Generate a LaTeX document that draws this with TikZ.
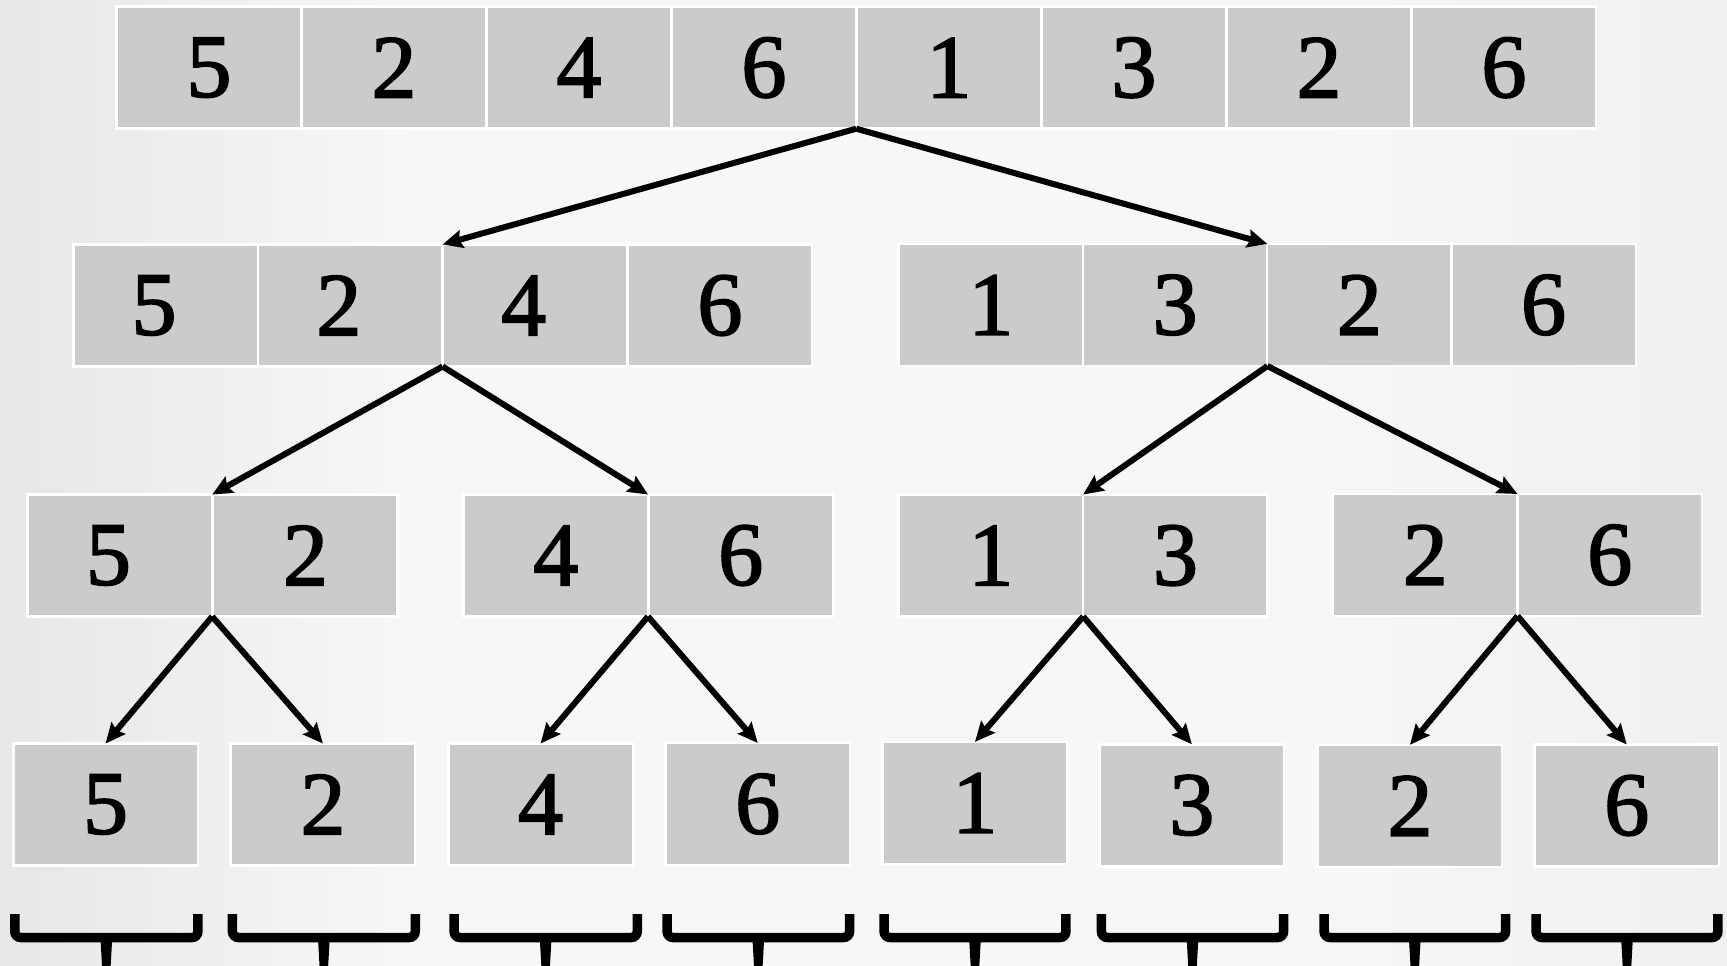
\documentclass[tikz,border=0pt]{standalone}
\usepackage{fontspec}
\setmainfont{Liberation Serif}
\newfontfamily\digitfam[FakeBold=2]{Liberation Serif}
\usetikzlibrary{arrows.meta}
\definecolor{cellgray}{RGB}{203,203,203}
\definecolor{bgA}{RGB}{231,231,229}
\definecolor{bgB}{RGB}{247,247,245}
\definecolor{bgC}{RGB}{240,240,238}
\newcommand{\lft}[1]{#1\hspace*{23pt}}
\begin{document}
\begin{tikzpicture}[x=1pt,y=-1pt,
  cell/.style={draw=white, line width=2.5pt, fill=cellgray,
    minimum width=184.5pt, minimum height=122pt, inner sep=0pt, outer sep=0pt,
    anchor=north west, font=\digitfam\fontsize{90}{90}\selectfont},
  conn/.style={draw=black, line width=6pt, -{Stealth[length=20pt,width=18pt,inset=3pt]}},
  brk/.style={draw=black, line width=9.5pt, rounded corners=6pt}]
\useasboundingbox (0,0) rectangle (1727,966);
\shade[left color=bgA, right color=bgB] (0,0) rectangle (420,966);
\fill[bgB] (420,0) rectangle (1300,966);
\shade[left color=bgB, right color=bgC] (1300,0) rectangle (1727,966);
% row 1
\foreach \v [count=\i] in {5,2,4,6,1,3,2,6}
  \node[cell] (a\i) at ({116.7+(\i-1)*185},6.7) {\v};
% row 2
\node[cell] (b1) at (73.3,244.5) {\lft{5}};
\node[cell] (b2) at (258.1,244.5) {\lft{2}};
\node[cell] (b3) at (442.9,244.5) {\lft{4}};
\node[cell] (b4) at (627.7,244.5) {6};
\foreach \v [count=\i from 5] in {1,3,2,6}
  \node[cell] (b\i) at ({898.7+(\i-5)*184.2},244) {\v};
% row 3
\node[cell] (c1) at (27.7,494.5) {\lft{5}};
\node[cell] (c2) at (213.2,494.5) {2};
\node[cell] (c3) at (463.5,494.5) {4};
\node[cell] (c4) at (648.5,494.5) {6};
\node[cell] (c5) at (898.7,494.5) {1};
\node[cell] (c6) at (1083.2,494.5) {3};
\node[cell] (c7) at (1333,494) {2};
\node[cell] (c8) at (1517.5,494) {6};
% row 4
\node[cell] (d1) at (13.3,743.5) {5};
\node[cell] (d2) at (230.7,743.5) {2};
\node[cell] (d3) at (448.3,743.5) {4};
\node[cell] (d4) at (665.5,743) {6};
\node[cell] (d5) at (882.7,742) {1};
\node[cell] (d6) at (1099.6,744.3) {3};
\node[cell] (d7) at (1317.7,744.8) {2};
\node[cell] (d8) at (1534.5,744.5) {6};
% connectors
\draw[conn] (a4.south east) -- (b2.north east);
\draw[conn] (a4.south east) -- (b6.north east);
\draw[conn] (b2.south east) -- (c1.north east);
\draw[conn] (b2.south east) -- (c3.north east);
\draw[conn] (b6.south east) -- (c5.north east);
\draw[conn] (b6.south east) -- (c7.north east);
\draw[conn] (c1.south east) -- (d1.north);
\draw[conn] (c1.south east) -- (d2.north);
\draw[conn] (c3.south east) -- (d3.north);
\draw[conn] (c3.south east) -- (d4.north);
\draw[conn] (c5.south east) -- (d5.north);
\draw[conn] (c5.south east) -- (d6.north);
\draw[conn] (c7.south east) -- (d7.north);
\draw[conn] (c7.south east) -- (d8.north);
% brackets
\foreach \l/\r in {10/202.7, 227.7/420, 449.3/642, 662.3/854.3, 879.3/1070.7, 1096.7/1288.3, 1319.3/1510.3, 1531.3/1722.7}{
  \draw[brk] ({\l+4.75},914) -- ({\l+4.75},937.5) -- ({\r-4.75},937.5) -- ({\r-4.75},914);
  \fill[black] ({(\l+\r)/2-6},936) -- ({(\l+\r)/2+6},936) -- ({(\l+\r)/2+4.2},968) -- ({(\l+\r)/2-4.2},968) -- cycle;
}
\end{tikzpicture}
\end{document}
